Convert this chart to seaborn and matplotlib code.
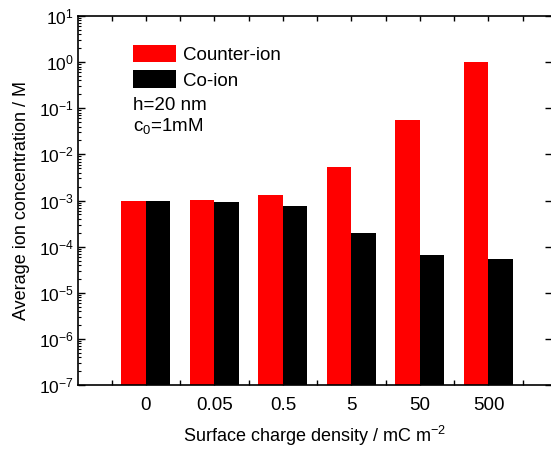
import matplotlib
matplotlib.use("Agg")
import matplotlib.pyplot as plt
import seaborn as sns
import pandas as pd
from matplotlib.ticker import LogLocator, FixedLocator, NullFormatter

categories = ["0", "0.05", "0.5", "5", "50", "500"]
counter_ion = [1.0e-3, 1.03e-3, 1.29e-3, 5.3e-3, 5.5e-2, 0.99]
co_ion = [1.0e-3, 0.95e-3, 7.6e-4, 1.97e-4, 6.5e-5, 5.3e-5]
series_names = ["Counter-ion", "Co-ion"]
colors = ["#ff0000", "#000000"]

df = pd.DataFrame({
    "density": categories * 2,
    "value": counter_ion + co_ion,
    "ion": [series_names[0]] * len(categories) + [series_names[1]] * len(categories),
})

sns.set_style("ticks")
plt.rcParams["font.family"] = ["Liberation Sans", "DejaVu Sans"]
plt.rcParams["mathtext.fontset"] = "custom"
plt.rcParams["mathtext.rm"] = "Liberation Sans"
plt.rcParams["mathtext.it"] = "Liberation Sans:italic"
plt.rcParams["mathtext.bf"] = "Liberation Sans:bold"
plt.rcParams["text.color"] = "black"
plt.rcParams["axes.labelcolor"] = "black"
plt.rcParams["xtick.color"] = "black"
plt.rcParams["ytick.color"] = "black"

fig = plt.figure(figsize=(5.51, 4.49), dpi=100)
ax = fig.add_axes([78 / 551, 1 - 385 / 449, 473.5 / 551, 369 / 449])
ax.set_yscale("log")
sns.barplot(data=df, x="density", y="value", hue="ion", order=categories,
            hue_order=series_names, palette=colors, width=0.715,
            linewidth=0, saturation=1, ax=ax)

ax.set_ylim(1e-7, 10)
ax.set_xlim(-0.99, 5.92)

for s in ax.spines.values():
    s.set_linewidth(1.2)
    s.set_color("black")

ax.yaxis.set_major_locator(LogLocator(base=10, numticks=20))
ax.yaxis.set_minor_locator(LogLocator(base=10, subs=range(2, 10), numticks=20))
ax.yaxis.set_minor_formatter(NullFormatter())
ax.tick_params(axis="y", which="major", direction="in", length=5, width=1,
               left=True, right=True, labelsize=12.5, pad=3)
ax.tick_params(axis="y", which="minor", direction="in", length=2.5, width=0.8,
               left=True, right=False)
ax.xaxis.set_minor_locator(FixedLocator([i - 0.5 for i in range(8)]))
ax.tick_params(axis="x", which="both", direction="in", length=3.5, width=1,
               top=True, bottom=True, labelsize=13.5, pad=9)

ax.set_xlabel(r"Surface charge density / mC m$^{-2}$", fontsize=13, labelpad=7)
ax.set_ylabel("Average ion concentration / M", fontsize=13, labelpad=6)

handles, labels = ax.get_legend_handles_labels()
if ax.get_legend() is not None:
    ax.get_legend().remove()
ax.legend(handles, labels, loc="upper left", bbox_to_anchor=(0.116, 0.922),
          frameon=False, fontsize=13.5, handlelength=2.3, handleheight=1.05,
          handletextpad=0.35, labelspacing=0.35, borderpad=0, borderaxespad=0)

ax.text(0.1164, 0.745, "h=20 nm", transform=ax.transAxes, fontsize=13.5, va="baseline")
ax.text(0.1164, 0.687, r"c$_0$=1mM", transform=ax.transAxes, fontsize=13.5, va="baseline")

fig.savefig("out.png", dpi=100)
